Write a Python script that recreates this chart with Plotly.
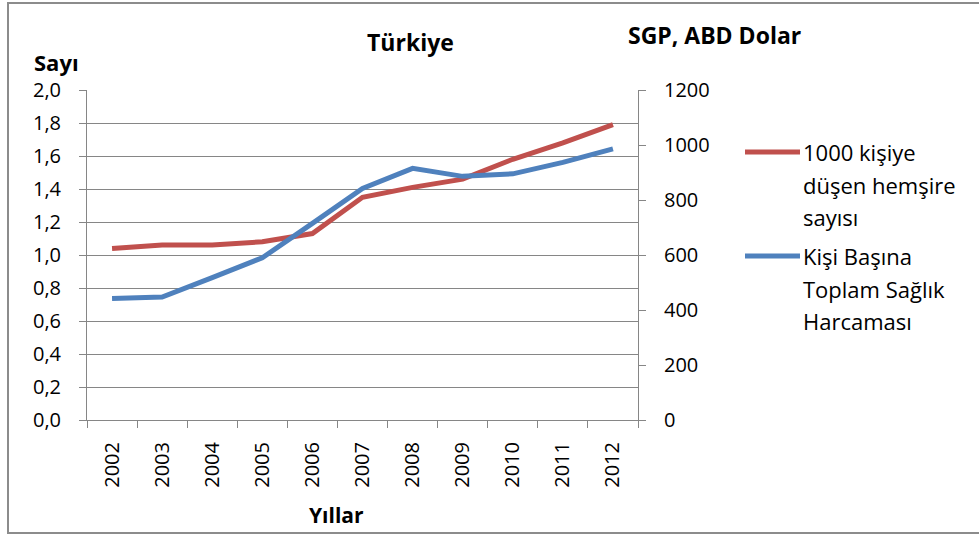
import plotly.graph_objects as go

years = ["2002", "2003", "2004", "2005", "2006", "2007", "2008", "2009", "2010", "2011", "2012"]
nurses_per_1000 = [1.04, 1.06, 1.06, 1.08, 1.13, 1.35, 1.41, 1.46, 1.58, 1.68, 1.79]
health_exp_per_capita = [442, 447, 518, 590, 715, 842, 915, 886, 895, 937, 986]

name_red = "1000 kişiye düşen hemşire sayısı"
name_blue = "Kişi Başına Toplam Sağlık Harcaması"
red_lines = ["1000 kişiye", "düşen hemşire", "sayısı"]
blue_lines = ["Kişi Başına", "Toplam Sağlık", "Harcaması"]

RED = "#C0504D"
BLUE = "#4F81BD"
GRID = "#868686"
FONT = "Open Sans"

W, H = 979, 535
L, R, T, B = 87, 638, 90, 420
PW, PH = R - L, B - T

def px(x):
    return (x - L) / PW

def py(y):
    return (B - y) / PH

fig = go.Figure()
fig.add_trace(go.Scatter(x=years, y=nurses_per_1000, name=name_red, mode="lines",
                         line=dict(color=RED, width=5), yaxis="y", showlegend=False))
fig.add_trace(go.Scatter(x=years, y=health_exp_per_capita, name=name_blue, mode="lines",
                         line=dict(color=BLUE, width=5), yaxis="y2", showlegend=False))

tickfont = dict(family=FONT, size=20, color="black")

fig.update_layout(
    width=W, height=H,
    margin=dict(l=L, r=W - R, t=T, b=H - B),
    paper_bgcolor="white", plot_bgcolor="white",
    separators=", ",
    font=dict(family=FONT, color="black"),
    xaxis=dict(type="category", range=[-0.5, len(years) - 0.5], tickangle=-90,
               ticks="outside", tickson="boundaries",
               ticklen=7, tickcolor=GRID, showline=True, linecolor=GRID, linewidth=1,
               showgrid=False, tickfont=tickfont, ticklabelstandoff=13),
    yaxis=dict(range=[0, 2], dtick=0.2, tickformat=".1f", ticks="outside", ticklen=7,
               tickcolor=GRID, showline=True, linecolor=GRID, linewidth=1,
               showgrid=True, gridcolor=GRID, gridwidth=1, zeroline=False,
               tickfont=tickfont, ticklabelstandoff=14),
    yaxis2=dict(range=[0, 1200], dtick=200, tickformat="d", overlaying="y", side="right",
                ticks="outside", ticklen=7, tickcolor=GRID, showline=True, linecolor=GRID,
                linewidth=1, showgrid=False, zeroline=False, tickfont=tickfont,
                ticklabelstandoff=14),
)

shapes = [
    dict(type="rect", xref="paper", yref="paper", x0=px(8), x1=px(1000), y0=py(533), y1=py(3),
         line=dict(color="#8C8C8C", width=2), fillcolor="rgba(0,0,0,0)", layer="above"),
    dict(type="line", xref="paper", yref="paper", x0=px(745), x1=px(800), y0=py(152), y1=py(152),
         line=dict(color=RED, width=5)),
    dict(type="line", xref="paper", yref="paper", x0=px(745), x1=px(800), y0=py(256), y1=py(256),
         line=dict(color=BLUE, width=5)),
]
fig.update_layout(shapes=shapes)

ann = []
def text(t, x, y, size=20, bold=False, xanchor="center"):
    ann.append(dict(text=f"<b>{t}</b>" if bold else t, x=px(x), y=py(y), xref="paper", yref="paper",
                    showarrow=False, xanchor=xanchor, yanchor="middle",
                    font=dict(family=FONT, size=size, color="black")))

text("Türkiye", 410, 42, size=23, bold=True)
text("Sayı", 56, 62, size=22, bold=True)
text("SGP, ABD Dolar", 714, 35, size=23, bold=True)
text("Yıllar", 336, 515, size=21, bold=True)
for i, t in enumerate(red_lines):
    text(t, 801, 152 + 32.5 * i, size=22, xanchor="left")
for i, t in enumerate(blue_lines):
    text(t, 801, 256 + 32.5 * i, size=22, xanchor="left")
fig.update_layout(annotations=ann)

fig.write_html("out.html", config={"displayModeBar": False},
               post_script="document.body.style.margin='0';document.body.style.padding='0';")
